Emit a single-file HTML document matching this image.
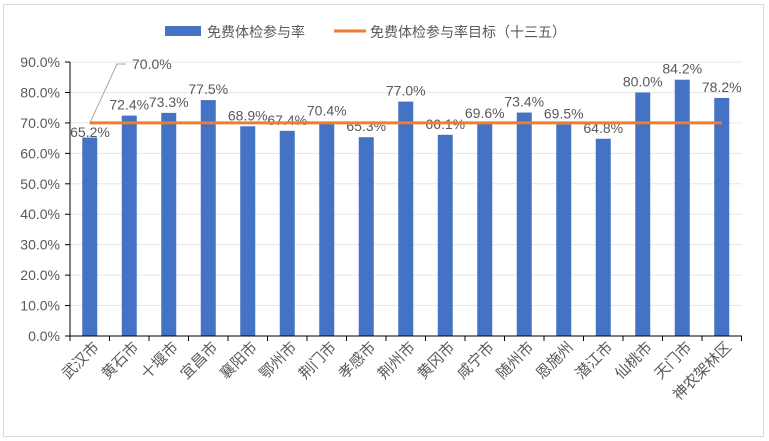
<!DOCTYPE html><html><head><meta charset="utf-8"><style>body{margin:0;background:#fff}svg{display:block}text{font-family:"Liberation Sans","Noto Sans CJK SC",sans-serif;fill:#595959}</style></head><body>
<svg width="769" height="441" xmlns="http://www.w3.org/2000/svg">
<rect x="3.5" y="4.5" width="760" height="432" fill="#fff" stroke="#d9d9d9"/>
<rect x="165" y="26" width="36" height="10" fill="#4472c4"/>
<text x="207" y="37" font-size="14">免费体检参与率</text>
<line x1="334" y1="31" x2="366" y2="31" stroke="#ed7d31" stroke-width="3"/>
<text x="370" y="37" font-size="14">免费体检参与率目标（十三五）</text>
<g stroke="#e6e6e6">
<line x1="70" x2="742" y1="305.56" y2="305.56"/><line x1="70" x2="742" y1="275.12" y2="275.12"/><line x1="70" x2="742" y1="244.68" y2="244.68"/><line x1="70" x2="742" y1="214.24" y2="214.24"/><line x1="70" x2="742" y1="183.8" y2="183.8"/><line x1="70" x2="742" y1="153.36" y2="153.36"/><line x1="70" x2="742" y1="122.92" y2="122.92"/><line x1="70" x2="742" y1="92.48" y2="92.48"/><line x1="70" x2="742" y1="62.04" y2="62.04"/>
</g>
<g stroke="#000">
<line x1="65" x2="70" y1="336" y2="336"/><line x1="65" x2="70" y1="305.56" y2="305.56"/><line x1="65" x2="70" y1="275.12" y2="275.12"/><line x1="65" x2="70" y1="244.68" y2="244.68"/><line x1="65" x2="70" y1="214.24" y2="214.24"/><line x1="65" x2="70" y1="183.8" y2="183.8"/><line x1="65" x2="70" y1="153.36" y2="153.36"/><line x1="65" x2="70" y1="122.92" y2="122.92"/><line x1="65" x2="70" y1="92.48" y2="92.48"/><line x1="65" x2="70" y1="62.04" y2="62.04"/>
</g>
<g font-size="14" text-anchor="end">
<text x="60" y="341">0.0%</text><text x="60" y="310.56">10.0%</text><text x="60" y="280.12">20.0%</text><text x="60" y="249.68">30.0%</text><text x="60" y="219.24">40.0%</text><text x="60" y="188.8">50.0%</text><text x="60" y="158.36">60.0%</text><text x="60" y="127.92">70.0%</text><text x="60" y="97.48">80.0%</text><text x="60" y="67.04">90.0%</text>
</g>
<g fill="#4472c4">
<rect x="82.25" y="137.53" width="15" height="198.47"/>
<rect x="121.75" y="115.61" width="15" height="220.39"/>
<rect x="161.25" y="112.87" width="15" height="223.13"/>
<rect x="200.75" y="100.09" width="15" height="235.91"/>
<rect x="240.25" y="126.27" width="15" height="209.73"/>
<rect x="279.75" y="130.83" width="15" height="205.17"/>
<rect x="319.25" y="121.70" width="15" height="214.30"/>
<rect x="358.75" y="137.23" width="15" height="198.77"/>
<rect x="398.25" y="101.61" width="15" height="234.39"/>
<rect x="437.75" y="134.79" width="15" height="201.21"/>
<rect x="477.25" y="124.14" width="15" height="211.86"/>
<rect x="516.75" y="112.57" width="15" height="223.43"/>
<rect x="556.25" y="124.44" width="15" height="211.56"/>
<rect x="595.75" y="138.75" width="15" height="197.25"/>
<rect x="635.25" y="92.48" width="15" height="243.52"/>
<rect x="674.75" y="79.70" width="15" height="256.30"/>
<rect x="714.25" y="97.96" width="15" height="238.04"/>
</g>
<g font-size="14" text-anchor="middle">
<text x="90" y="137">65.2%</text>
<text x="129.25" y="109.61">72.4%</text>
<text x="168.75" y="106.87">73.3%</text>
<text x="208.25" y="94.09">77.5%</text>
<text x="247.75" y="120.27">68.9%</text>
<text x="287.25" y="124.83">67.4%</text>
<text x="326.75" y="115.7">70.4%</text>
<text x="366.25" y="131.23">65.3%</text>
<text x="405.75" y="95.61">77.0%</text>
<text x="445.25" y="128.79">66.1%</text>
<text x="484.75" y="118.14">69.6%</text>
<text x="524.25" y="106.57">73.4%</text>
<text x="563.75" y="118.44">69.5%</text>
<text x="603.25" y="132.75">64.8%</text>
<text x="642.75" y="86.48">80.0%</text>
<text x="682.25" y="73.7">84.2%</text>
<text x="721.75" y="91.96">78.2%</text>
</g>
<g stroke="#000">
<line x1="70" x2="742" y1="336" y2="336"/><line x1="70" x2="70" y1="62" y2="336"/>
<line x1="70" x2="70" y1="336" y2="341"/><line x1="109.5" x2="109.5" y1="336" y2="341"/><line x1="149" x2="149" y1="336" y2="341"/><line x1="188.5" x2="188.5" y1="336" y2="341"/><line x1="228" x2="228" y1="336" y2="341"/><line x1="267.5" x2="267.5" y1="336" y2="341"/><line x1="307" x2="307" y1="336" y2="341"/><line x1="346.5" x2="346.5" y1="336" y2="341"/><line x1="386" x2="386" y1="336" y2="341"/><line x1="425.5" x2="425.5" y1="336" y2="341"/><line x1="465" x2="465" y1="336" y2="341"/><line x1="504.5" x2="504.5" y1="336" y2="341"/><line x1="544" x2="544" y1="336" y2="341"/><line x1="583.5" x2="583.5" y1="336" y2="341"/><line x1="623" x2="623" y1="336" y2="341"/><line x1="662.5" x2="662.5" y1="336" y2="341"/><line x1="702" x2="702" y1="336" y2="341"/><line x1="741.5" x2="741.5" y1="336" y2="341"/>
</g>
<g font-size="15" text-anchor="end">
<text transform="translate(100,348) rotate(-45)">武汉市</text>
<text transform="translate(139.5,348) rotate(-45)">黄石市</text>
<text transform="translate(179,348) rotate(-45)">十堰市</text>
<text transform="translate(218.5,348) rotate(-45)">宜昌市</text>
<text transform="translate(258,348) rotate(-45)">襄阳市</text>
<text transform="translate(297.5,348) rotate(-45)">鄂州市</text>
<text transform="translate(337,348) rotate(-45)">荆门市</text>
<text transform="translate(376.5,348) rotate(-45)">孝感市</text>
<text transform="translate(416,348) rotate(-45)">荆州市</text>
<text transform="translate(455.5,348) rotate(-45)">黄冈市</text>
<text transform="translate(495,348) rotate(-45)">咸宁市</text>
<text transform="translate(534.5,348) rotate(-45)">随州市</text>
<text transform="translate(574,348) rotate(-45)">恩施州</text>
<text transform="translate(613.5,348) rotate(-45)">潜江市</text>
<text transform="translate(653,348) rotate(-45)">仙桃市</text>
<text transform="translate(692.5,348) rotate(-45)">天门市</text>
<text transform="translate(732,348) rotate(-45)">神农架林区</text>
</g>
<polyline points="90,122.92 117,64 126,64" fill="none" stroke="#a6a6a6"/>
<line x1="89.75" x2="721.75" y1="122.92" y2="122.92" stroke="#ed7d31" stroke-width="3"/>
<text x="132" y="69" font-size="14">70.0%</text>
</svg></body></html>
